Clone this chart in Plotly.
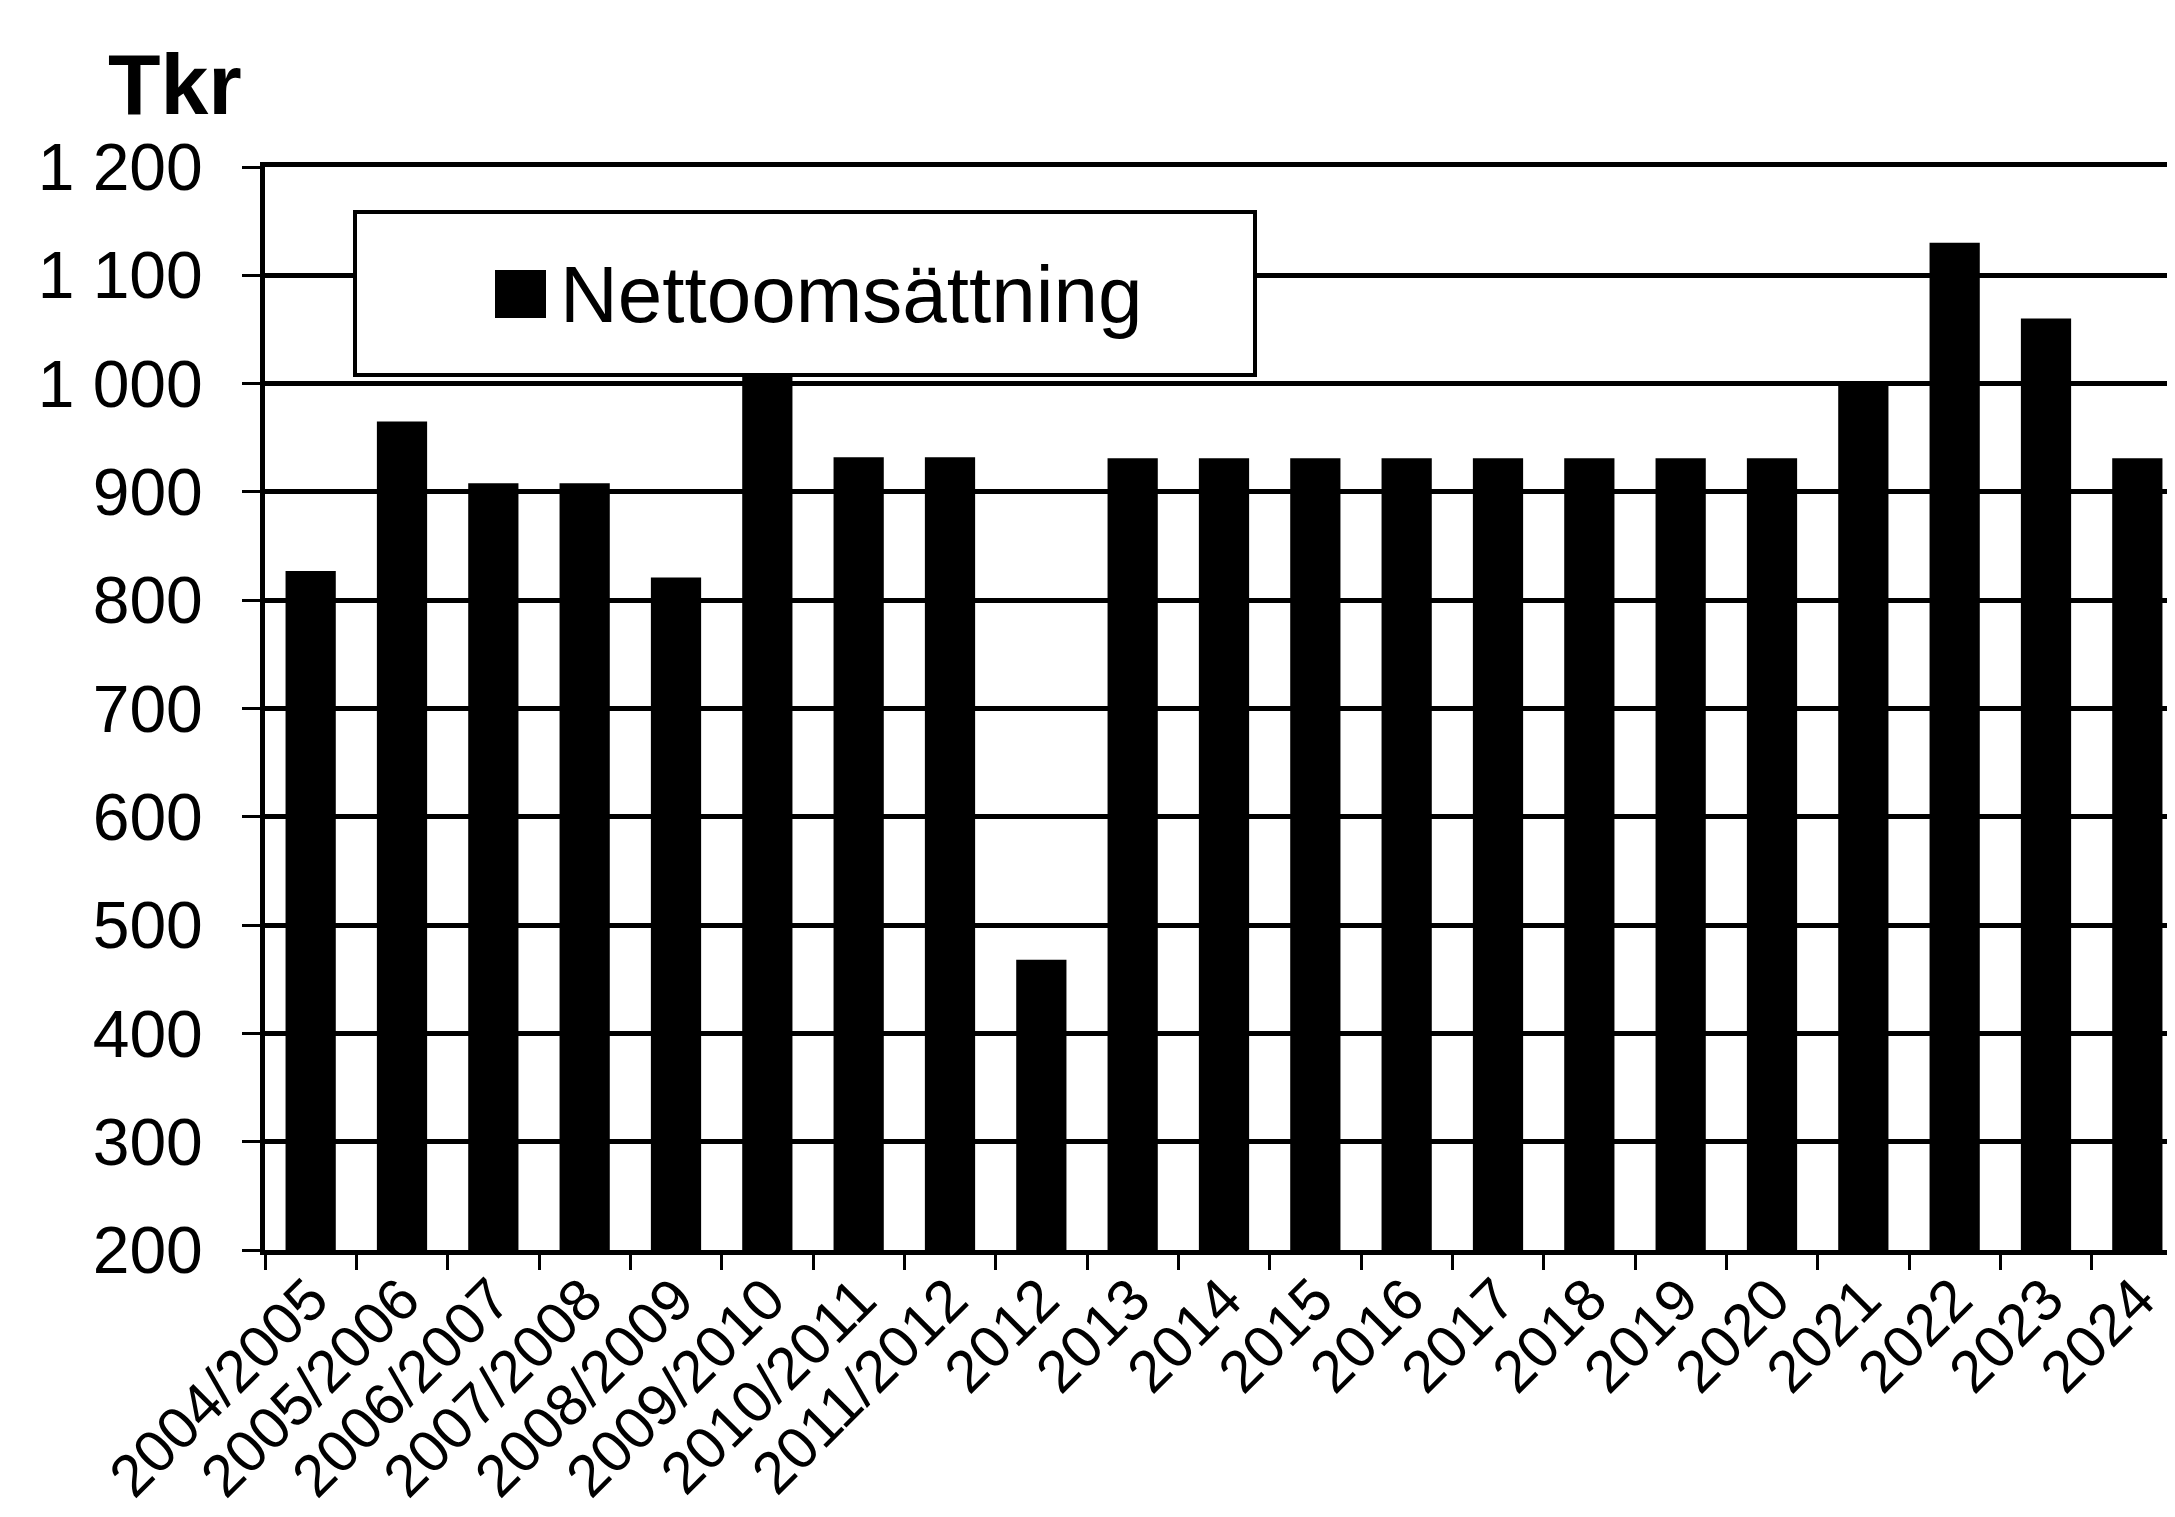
import plotly.graph_objects as go

categories = ["2004/2005", "2005/2006", "2006/2007", "2007/2008", "2008/2009",
              "2009/2010", "2010/2011", "2011/2012", "2012", "2013", "2014",
              "2015", "2016", "2017", "2018", "2019", "2020", "2021", "2022",
              "2023", "2024"]
nettoomsattning = [827, 965, 908, 908, 821, 1010, 932, 932, 468, 931, 931,
                   931, 931, 931, 931, 931, 931, 1002, 1130, 1060, 931]
series_name = "Nettoomsättning"
y_unit = "Tkr"

W, H = 2175, 1517
OFF = 8  # page body margin offset
L, R, T = 257, 0, 159
B = H - (1250 - OFF)
PW = W - L - R
PH = H - T - B

def xp(px):
    # px given in page coordinates
    return (px - OFF - L) / PW

def yp(py):
    return (H - B - (py - OFF)) / PH

FONT = "Liberation Sans, Arial, sans-serif"

fig = go.Figure()
fig.add_trace(go.Bar(
    x=categories, y=nettoomsattning, name=series_name,
    marker=dict(color="black", line=dict(width=0)),
    showlegend=False,
))

fig.update_layout(
    width=W, height=H,
    margin=dict(l=L, r=R, t=T, b=B, pad=0, autoexpand=False),
    paper_bgcolor="white", plot_bgcolor="white",
    bargap=0.45,
    separators=", ",
    font=dict(family=FONT, color="black"),
    xaxis=dict(
        type="category",
        automargin=False,
        range=[-0.5, 20.5],
        tickangle=-45,
        tickfont=dict(size=59, family=FONT, color="black"),
        ticks="outside", ticklen=15, tickwidth=3, tickcolor="black",
        tickson="boundaries",
        showline=True, linecolor="black", linewidth=5,
        mirror=True,
        showgrid=False,
        ticklabelstandoff=-14,
    ),
    yaxis=dict(
        automargin=False,
        range=[200, 1200],
        dtick=100, tick0=200,
        tickformat=",d",
        tickfont=dict(size=66, family=FONT, color="black"),
        ticks="outside", ticklen=18, tickwidth=3, tickcolor="black",
        showline=True, linecolor="black", linewidth=5,
        mirror=True,
        showgrid=True, gridcolor="black", gridwidth=5,
        zeroline=False,
        ticklabelstandoff=26,
    ),
)

# legend box (drawn to match the original large legend)
fig.add_shape(type="rect", xref="paper", yref="paper",
              x0=xp(355), x1=xp(1255), y0=yp(375), y1=yp(212),
              fillcolor="white", line=dict(color="black", width=4), layer="above")
fig.add_shape(type="rect", xref="paper", yref="paper",
              x0=xp(495), x1=xp(546), y0=yp(318), y1=yp(270),
              fillcolor="black", line=dict(color="black", width=0), layer="above")
fig.add_annotation(xref="paper", yref="paper", x=xp(558), y=yp(294),
                   xanchor="left", yanchor="middle", showarrow=False,
                   text=series_name, font=dict(size=80, family=FONT, color="black"))

fig.add_annotation(xref="paper", yref="paper", x=xp(106), y=yp(84),
                   xanchor="left", yanchor="middle", showarrow=False,
                   text="<b>" + y_unit + "</b>",
                   font=dict(size=86, family=FONT, color="black"))

fig.write_html("out.html")
